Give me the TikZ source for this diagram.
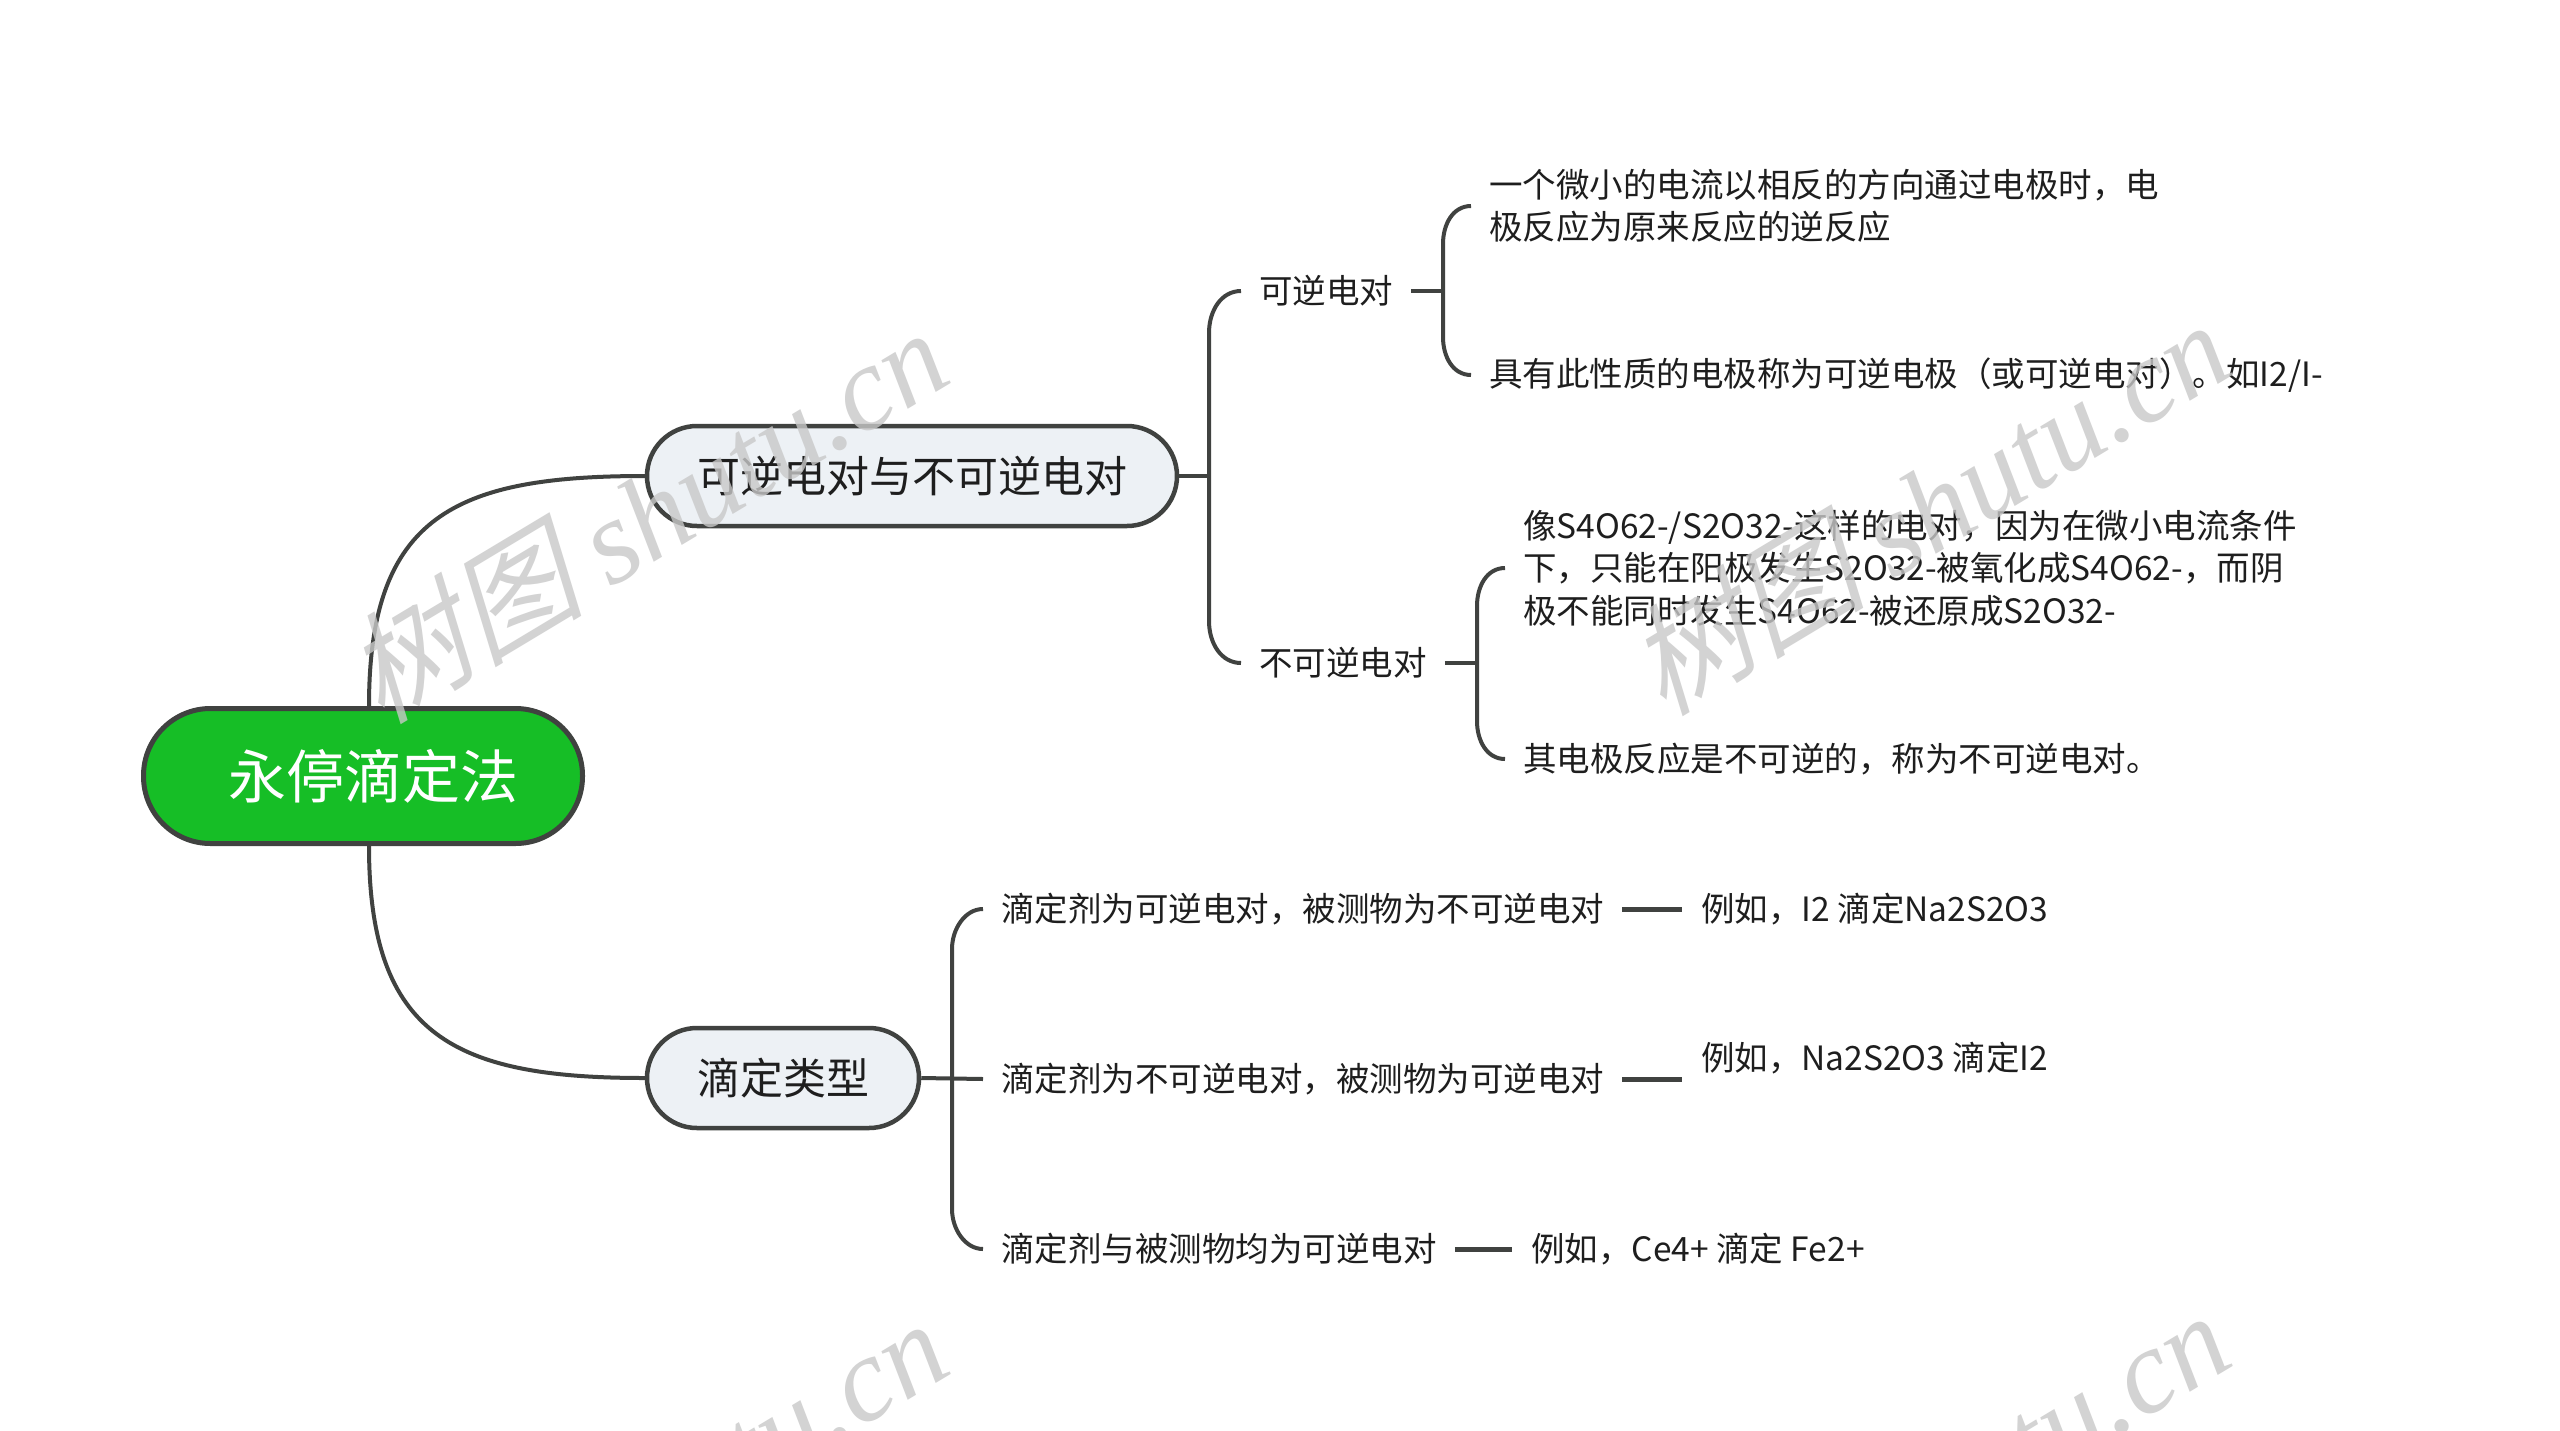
\documentclass[tikz,border=0pt]{standalone}
\usepackage{fontspec}
\setmainfont{Noto Sans CJK SC}
\newfontfamily\wmcjk[FakeSlant=0.25]{Noto Sans CJK SC}
\newfontfamily\wmlat{Liberation Serif}
\usetikzlibrary{calc}
\definecolor{linec}{RGB}{64,66,64}
\definecolor{rootg}{RGB}{22,190,38}
\definecolor{boxf}{RGB}{237,241,245}
\definecolor{textc}{RGB}{30,30,30}
\definecolor{wmc}{RGB}{200,200,200}
\begin{document}
\begin{tikzpicture}[x=1pt,y=-1pt,
  conn/.style={draw=linec,line width=4pt},
  dashline/.style={draw=linec,line width=5pt},
  rootbox/.style={draw=linec,line width=5pt,fill=rootg,rounded corners=67pt,minimum width=439pt,minimum height=135pt,inner sep=0pt,text=white,font=\fontsize{58}{70}\selectfont},
  midbox/.style={draw=linec,line width=4.5pt,fill=boxf,rounded corners=50pt,minimum height=100pt,inner sep=0pt,text=textc,font=\fontsize{43}{52}\selectfont},
  leaf/.style={inner xsep=18pt,inner ysep=0pt,anchor=west,align=left,text=textc,font=\fontsize{33.5}{42.5}\selectfont},
  wm/.style={text=wmc,opacity=0.8,font=\fontsize{120}{130}\selectfont,rotate=31,inner sep=0pt}
]
\useasboundingbox (0,0) rectangle (2560,1430);
\fill[white] (0,0) rectangle (2560,1430);

% main nodes
\node[rootbox] (root) at (363,776) {\hspace*{20pt}永停滴定法};
\node[midbox,minimum width=530pt] (b1) at (912,476) {可逆电对与不可逆电对};
\node[midbox,minimum width=272pt] (b2) at (783,1078) {滴定类型};

% leaves
\node[leaf] (a) at (1241,291) {可逆电对};
\node[leaf] (b) at (1241,663) {不可逆电对};
\node[leaf] (a1) at (1471,206) {一个微小的电流以相反的方向通过电极时，电\\极反应为原来反应的逆反应};
\node[leaf] (a2) at (1471,375) {具有此性质的电极称为可逆电极（或可逆电对）。如I2/I-};
\node[leaf] (bb1) at (1505,568) {像S4O62-/S2O32-这样的电对，因为在微小电流条件\\下，只能在阳极发生S2O32-被氧化成S4O62-，而阴\\极不能同时发生S4O62-被还原成S2O32-};
\node[leaf] (bb2) at (1505,759) {其电极反应是不可逆的，称为不可逆电对。};
\node[leaf] (t1) at (983,909) {滴定剂为可逆电对，被测物为不可逆电对};
\node[leaf] (t2) at (983,1079) {滴定剂为不可逆电对，被测物为可逆电对};
\node[leaf] (t3) at (983,1249) {滴定剂与被测物均为可逆电对};
\node[leaf,inner xsep=19pt] (e1) at (1682,909) {例如，I2 滴定Na2S2O3};
\node[leaf,inner xsep=19pt] (e2) at (1682,1058) {例如，Na2S2O3 滴定I2};
\node[leaf,inner xsep=19pt] (e3) at (1512,1249) {例如，Ce4+ 滴定 Fe2+};

% root to branches
\draw[conn] ($(root.north)+(6,0)$) .. controls +(0,-190) and +(-190,0) .. (b1.west);
\draw[conn] ($(root.south)+(6,0)$) .. controls +(0,190) and +(-190,0) .. (b2.west);

% brackets
\coordinate (kb1) at ($(a.west)+(-32,0)$);
\draw[conn] (b1.east) -- (b1.east -| kb1);
\draw[conn] (a.west) .. controls +(-20,0) and +(0,-22) .. ($(a.west)+(-32,42)$)
  -- ($(b.west)+(-32,-42)$) .. controls +(0,22) and +(-20,0) .. (b.west);

\coordinate (ka) at ($(a1.west)+(-28,0)$);
\draw[conn] (a.east) -- (a.east -| ka);
\draw[conn] (a1.west) .. controls +(-18,0) and +(0,-20) .. ($(a1.west)+(-28,38)$)
  -- ($(a2.west)+(-28,-38)$) .. controls +(0,20) and +(-18,0) .. (a2.west);

\coordinate (kb) at ($(bb1.west)+(-28,0)$);
\draw[conn] (b.east) -- (b.east -| kb);
\draw[conn] (bb1.west) .. controls +(-18,0) and +(0,-20) .. ($(bb1.west)+(-28,38)$)
  -- ($(bb2.west)+(-28,-38)$) .. controls +(0,20) and +(-18,0) .. (bb2.west);

\draw[conn] (b2.east) -- (t2.west);
\draw[conn] (t1.west) .. controls +(-18,0) and +(0,-20) .. ($(t1.west)+(-31,40)$)
  -- ($(t3.west)+(-31,-40)$) .. controls +(0,20) and +(-18,0) .. (t3.west);

% example dashes
\draw[dashline] (t1.east) -- (e1.west);
\draw[dashline] (t2.east) -- (t2.east -| e2.west);
\draw[dashline] (t3.east) -- (e3.west);

% watermarks
\begin{scope}
\clip (0,0) rectangle (2560,1430);
\foreach \p/\q in {645/514, 1927/506, 645/1505, 1927/1497}{
  \node[wm] (w\p\q) at (\p,\q) {{\wmcjk 树图} {\wmlat\itshape shutu.cn}};
}
\end{scope}
\end{tikzpicture}
\end{document}
